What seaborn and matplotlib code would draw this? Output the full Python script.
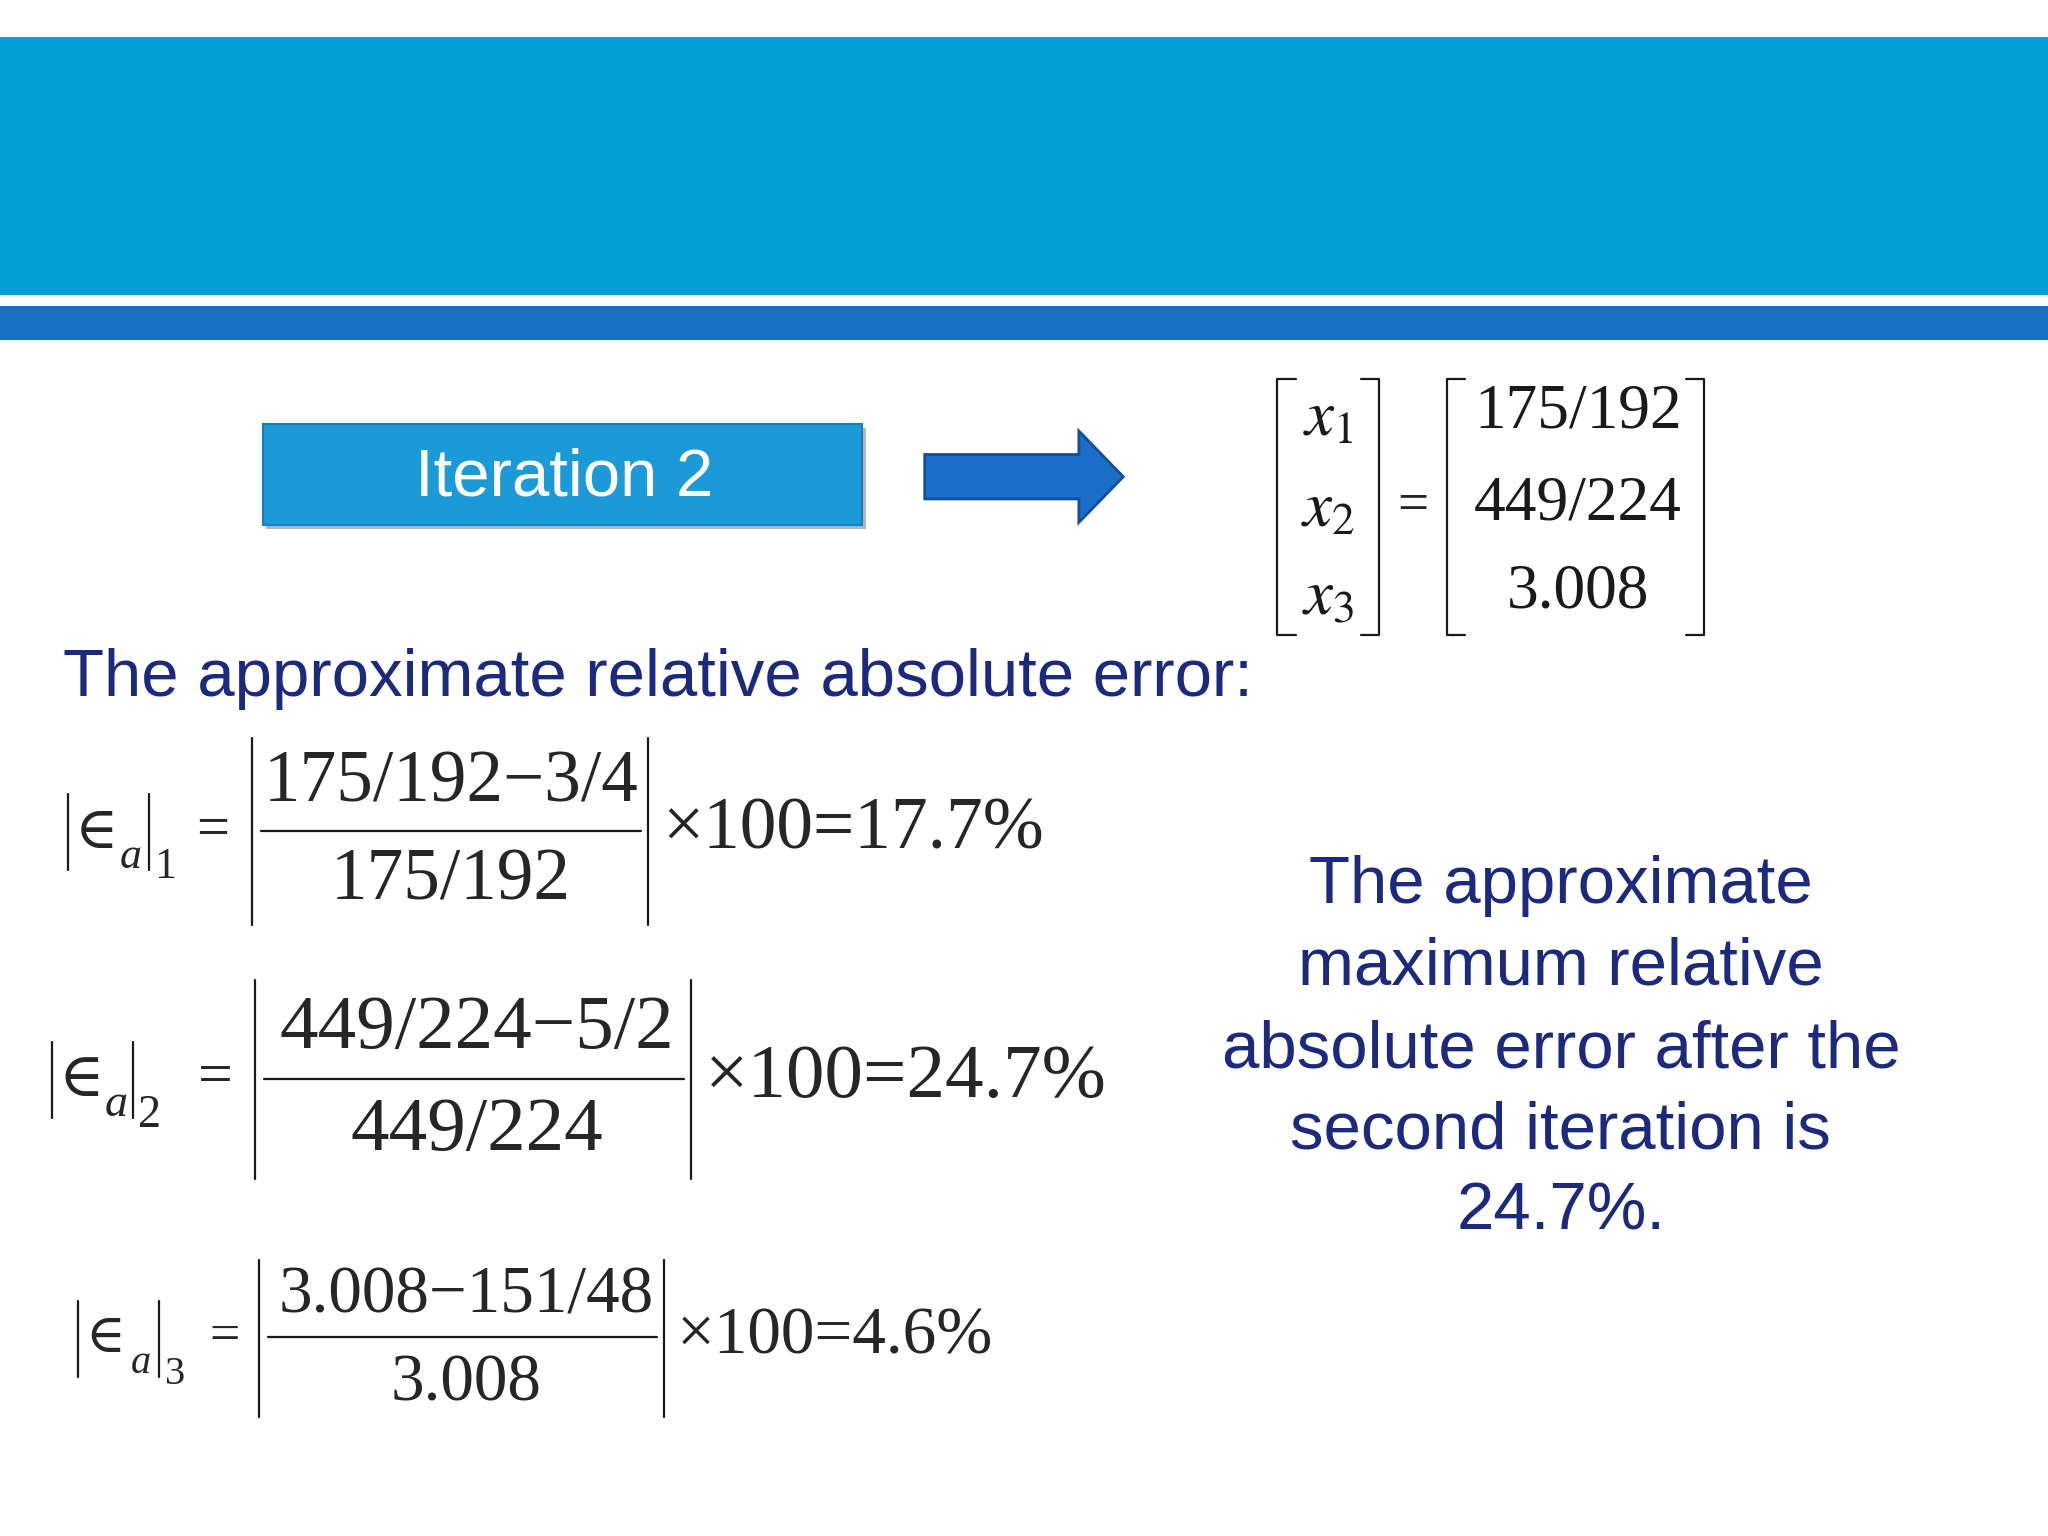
import matplotlib
matplotlib.use("Agg")
import matplotlib.pyplot as plt
import seaborn as sns
from matplotlib.patches import Rectangle, Polygon

sns.set_theme(style="white")
plt.rcParams['font.family'] = ['Liberation Sans', 'DejaVu Sans']

# data
x_labels = ["x_1", "x_2", "x_3"]
x_values = ["175/192", "449/224", "3.008"]
numerators = ["175/192\u22123/4", "449/224\u22125/2", "3.008\u2212151/48"]
denominators = ["175/192", "449/224", "3.008"]
errors = ["17.7%", "24.7%", "4.6%"]
title_text = "The approximate relative absolute error:"
side_lines = ["The approximate", "maximum relative", "absolute error after the",
              "second iteration is", "24.7%."]
button_text = "Iteration 2"

W, H = 1568, 1176
S = 2048 / W
def fs(h, r=0.72):
    return h * S / r / (100 / 72)

fig = plt.figure(figsize=(20.48, 15.36), dpi=100)
ax = fig.add_axes([0, 0, 1, 1])
ax.set_xlim(0, W); ax.set_ylim(H, 0); ax.axis("off")

NAVY = "#1b2a7e"
ax.add_patch(Rectangle((0, 28), W, 198, color="#029fd7", lw=0))
ax.add_patch(Rectangle((0, 234), W, 26, color="#1570c6", lw=0))

# button
ax.add_patch(Rectangle((204, 328), 459, 77, color="#b0b8c0", lw=0))
ax.add_patch(Rectangle((201, 325), 459, 77, color="#1b9ad7", ec="#1680c0", lw=1.5))
ax.text(432, 366, button_text, color="white", fontsize=fs(37), ha="center", va="center")

# arrow
ax.add_patch(Polygon([(708, 348), (826, 348), (826, 330), (860, 365), (826, 400),
                      (826, 382), (708, 382)], closed=True, fc="#1a6ec8", ec="#11509a", lw=2))

serif = "Liberation Serif"
def bracket(x0, x1, y0, y1):
    for x, d in ((x0, 1), (x1, -1)):
        ax.plot([x + 14 * d, x, x, x + 14 * d], [y0, y0, y1, y1], color="k", lw=1.6)

bracket(978, 1056, 290, 486)
bracket(1108, 1305, 290, 486)
ys = [320, 390, 458]
for lab, val, y in zip(x_labels, x_values, ys):
    ax.text(1017, y, "$%s$" % lab, fontsize=fs(25, 0.5), ha="center", va="center",
            math_fontfamily="stix", color="k")
    ax.text(1208, y - 4, val, fontsize=fs(32, 0.66), ha="center", va="center",
            family=serif, color="k")
ax.text(1082, 388, "=", fontsize=fs(28, 0.66), ha="center", va="center", family=serif)

ax.text(48, 520, title_text, color=NAVY, fontsize=fs(37), ha="left", va="center")

eqs = [
    dict(lx=52, sub="1", eq=163, b0=193, b1=496, top=565, bot=708, num_y=600, line_y=636,
         den_y=675, tail_x=507, cx=345, h=37),
    dict(lx=40, sub="2", eq=165, b0=195, b1=529, top=750, bot=903, num_y=788, line_y=826,
         den_y=866, tail_x=540, cx=365, h=39),
    dict(lx=60, sub="3", eq=172, b0=198, b1=508, top=965, bot=1085, num_y=992, line_y=1024,
         den_y=1060, tail_x=518, cx=357, h=34),
]
for e, num, den, err in zip(eqs, numerators, denominators, errors):
    yc = e["line_y"]
    f = fs(e["h"], 0.66)
    ax.plot([e["lx"], e["lx"]], [yc - 28, yc + 30], color="k", lw=1.6)
    ax.text(e["lx"] + 5, yc, "\u2208", fontsize=f * 0.8, ha="left", va="center", family="DejaVu Serif")
    ax.text(e["lx"] + 40, yc + 20, "a", fontsize=f * 0.6, ha="left", va="center",
            family=serif, style="italic")
    ax.plot([e["lx"] + 62, e["lx"] + 62], [yc - 28, yc + 30], color="k", lw=1.6)
    ax.text(e["lx"] + 66, yc + 28, e["sub"], fontsize=f * 0.6, ha="left", va="center", family=serif)
    ax.text(e["eq"], yc, "=", fontsize=f * 0.8, ha="center", va="center", family=serif)
    ax.plot([e["b0"], e["b0"]], [e["top"], e["bot"]], color="k", lw=1.6)
    ax.plot([e["b1"], e["b1"]], [e["top"], e["bot"]], color="k", lw=1.6)
    ax.plot([e["b0"] + 7, e["b1"] - 5], [yc, yc], color="k", lw=1.6)
    ax.text(e["cx"], e["num_y"], num, fontsize=f, ha="center", va="center", family=serif)
    ax.text(e["cx"], e["den_y"], den, fontsize=f, ha="center", va="center", family=serif)
    ax.text(e["tail_x"], yc, "\u00d7100=" + err, fontsize=f, ha="left", va="center", family=serif)

for y, line in zip([678, 741, 804, 866, 928], side_lines):
    ax.text(1195, y, line, color=NAVY, fontsize=fs(37), ha="center", va="center")

fig.savefig("out.png", dpi=100, facecolor="white")
